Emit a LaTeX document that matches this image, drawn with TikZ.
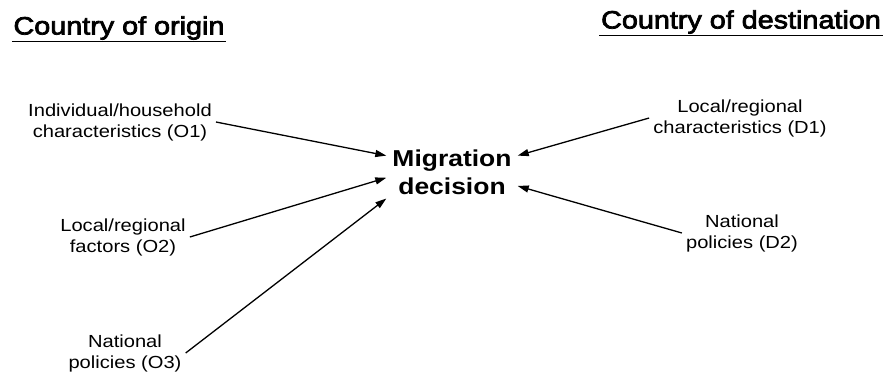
\documentclass[tikz,border=0pt]{standalone}
\usepackage{fontspec}
\setmainfont[FakeStretch=1.15]{Liberation Sans}
\newfontfamily\headfont[FakeStretch=1.15,FakeBold=3]{Liberation Sans}
\usepackage{tikz}
\usetikzlibrary{arrows.meta}

\tikzset{
  factor/.style={align=center, inner sep=4pt, font=\fontsize{17.5}{21}\selectfont},
  heading/.style={inner sep=1.5pt, font=\headfont\fontsize{25}{28}\selectfont},
  link/.style={line width=1.3pt, -{Triangle[length=11pt,width=7pt]}}
}

\begin{document}
\begin{tikzpicture}[x=1pt, y=-1pt]

  \useasboundingbox (0,0) rectangle (887,373);

  % headings
  \node[heading] (orig) at (119,28) {Country of origin};
  \node[heading] (dest) at (741,22) {Country of destination};
  \draw[line width=1.2pt] (orig.south west) -- (orig.south east);
  \draw[line width=1.2pt] (dest.south west) -- (dest.south east);

  % decision
  \node[align=center, inner sep=6pt, font=\fontsize{23}{28}\selectfont\bfseries]
    (mig) at (452,172) {Migration\\decision};

  % origin factors
  \node[factor] (o1) at (120,122) {Individual/household\\characteristics (O1)};
  \node[factor] (o2) at (123,237) {Local/regional\\factors (O2)};
  \node[factor] (o3) at (125,353) {National\\policies (O3)};

  % destination factors
  \node[factor] (d1) at (740,118) {Local/regional\\characteristics (D1)};
  \node[factor] (d2) at (742,233) {National\\policies (D2)};

  \draw[link] (o1.east) -- (mig.166);
  \draw[link] (o2.east) -- (mig.185);
  \draw[link] (o3.east) -- (mig.202);
  \draw[link] (d1.west) -- (mig.14);
  \draw[link] (d2.west) -- (mig.348);

\end{tikzpicture}
\end{document}
